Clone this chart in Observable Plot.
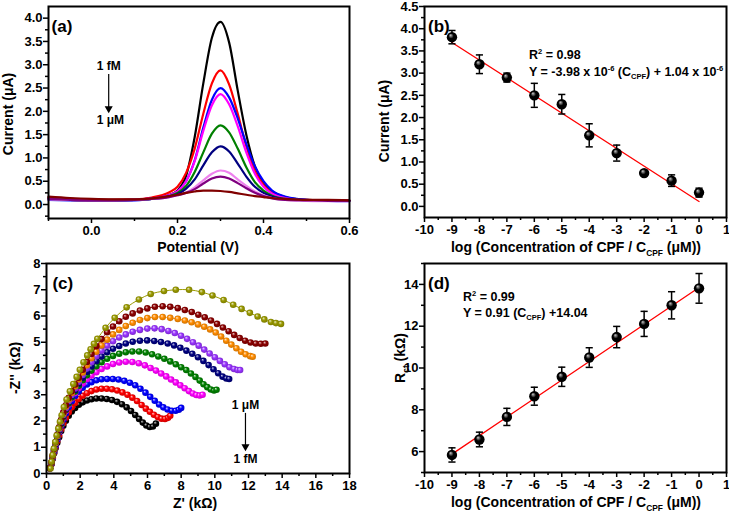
<!DOCTYPE html>
<html><head><meta charset="utf-8">
<script src="https://cdn.jsdelivr.net/npm/d3@7"></script>
<script src="https://cdn.jsdelivr.net/npm/@observablehq/plot@0.6"></script>
<style>
body{margin:0;background:#fff;}
#root{position:relative;width:729px;height:514px;overflow:hidden;font-family:"Liberation Sans",Arial,sans-serif;font-weight:bold;color:#000;}
.panel{position:absolute;}
.t{position:absolute;white-space:nowrap;font-weight:bold;line-height:1;}
.yt{transform:translate(-50%,-50%) rotate(-90deg);font-size:14px;}
.xt{transform:translate(-50%,-50%);font-size:14px;}
.eq{transform:translate(0,-50%);font-size:12.5px;}
sub,sup{font-size:60%;line-height:0;}
</style></head><body><div id="root"></div>
<script>
// ---------- Panel (a): DPV curves ----------
const potential = [-0.1,-0.05,0,0.05,0.1,0.14,0.18,0.2,0.22,0.24,0.26,0.28,0.3,0.32,0.34,0.36,0.38,0.4,0.42,0.45,0.5,0.55,0.6];
const dpvNames = ["black","red","blue","magenta","green","navy","violet","purple","maroon"];
const dpvColors = ["#000000","#ff0000","#0000ff","#ff00ff","#008000","#000080","#9933ff","#800080","#8b0000"];
const dpvBlack   = [0.15,0.12,0.10,0.10,0.10,0.13,0.20,0.30,0.62,1.45,2.6,3.58,3.92,3.48,2.45,1.5,0.82,0.45,0.28,0.16,0.10,0.09,0.08];
const dpvRed     = [0.15,0.12,0.10,0.10,0.11,0.15,0.26,0.38,0.68,1.2,1.95,2.6,2.88,2.58,1.95,1.25,0.72,0.42,0.25,0.15,0.10,0.09,0.08];
const dpvBlue    = [0.10,0.09,0.08,0.08,0.09,0.12,0.20,0.28,0.50,0.95,1.65,2.25,2.5,2.3,1.85,1.3,0.82,0.5,0.3,0.17,0.10,0.08,0.07];
const dpvMagenta = [0.12,0.10,0.09,0.09,0.10,0.13,0.20,0.28,0.50,0.93,1.58,2.13,2.37,2.15,1.68,1.12,0.66,0.38,0.23,0.14,0.09,0.08,0.08];
const dpvGreen   = [0.12,0.10,0.09,0.09,0.10,0.12,0.18,0.25,0.40,0.70,1.12,1.52,1.7,1.55,1.2,0.8,0.48,0.3,0.19,0.12,0.09,0.08,0.08];
const dpvNavy    = [0.12,0.10,0.09,0.09,0.10,0.12,0.17,0.22,0.34,0.54,0.84,1.12,1.25,1.14,0.88,0.6,0.38,0.25,0.17,0.11,0.09,0.08,0.08];
const dpvViolet  = [0.11,0.10,0.09,0.09,0.10,0.12,0.16,0.20,0.26,0.37,0.52,0.66,0.73,0.68,0.54,0.4,0.28,0.2,0.14,0.10,0.08,0.07,0.07];
const dpvPurple  = [0.12,0.10,0.09,0.09,0.10,0.12,0.16,0.20,0.25,0.33,0.45,0.56,0.6,0.56,0.46,0.35,0.25,0.18,0.13,0.10,0.09,0.08,0.08];
const dpvMaroon  = [0.17,0.14,0.12,0.11,0.11,0.13,0.18,0.21,0.25,0.28,0.30,0.30,0.29,0.27,0.24,0.21,0.18,0.16,0.14,0.12,0.10,0.10,0.09];
const aXTicks = [0,0.2,0.4,0.6], aXMinor = [-0.1,0.1,0.3,0.5];
const aYTicks = [0,0.5,1,1.5,2,2.5,3,3.5,4], aYMinor = [-0.25,0.25,0.75,1.25,1.75,2.25,2.75,3.25,3.75];

// ---------- Panels (b),(d): calibration ----------
const concLog = [-9,-8,-7,-6,-5,-4,-3,-2,-1,0];
const peakCurrent = [3.81,3.2,2.9,2.5,2.3,1.6,1.2,0.75,0.58,0.31];
const peakErr = [0.15,0.21,0.1,0.27,0.22,0.26,0.18,0.05,0.13,0.1];
const fitBX = [-9,0], fitBY = [3.69,0.11];
const rct = [5.84,6.58,7.66,8.65,9.58,10.5,11.48,12.11,13.0,13.81];
const rctErr = [0.34,0.35,0.41,0.43,0.46,0.47,0.51,0.6,0.65,0.71];
const fitDX = [-9,0], fitDY = [5.88,13.85];
const bXTicks = [-10,-9,-8,-7,-6,-5,-4,-3,-2,-1,0,1], bXMinor = [-9.5,-8.5,-7.5,-6.5,-5.5,-4.5,-3.5,-2.5,-1.5,-0.5,0.5];
const bYTicks = [0,0.5,1,1.5,2,2.5,3,3.5,4,4.5], bYMinor = [0.25,0.75,1.25,1.75,2.25,2.75,3.25,3.75,4.25];
const dYTicks = [6,8,10,12,14], dYMinor = [5,7,9,11,13,15];

// ---------- Panel (c): Nyquist curves [Z', -Z''] in kΩ ----------
const zBlack = [[0.2,0.2],[0.3,0.36],[0.37,0.56],[0.45,0.77],[0.54,0.97],[0.64,1.17],[0.75,1.38],[0.87,1.62],[1.0,1.82],[1.15,2.01],[1.32,2.2],[1.5,2.36],[1.7,2.5],[1.92,2.62],[2.15,2.71],[2.4,2.78],[2.67,2.83],[2.96,2.86],[3.27,2.86],[3.58,2.84],[3.89,2.8],[4.19,2.73],[4.48,2.64],[4.76,2.52],[5.02,2.38],[5.27,2.23],[5.5,2.08],[5.72,1.94],[5.93,1.83],[6.13,1.77],[6.32,1.79],[6.5,1.9]];
const zRed = [[0.2,0.2],[0.3,0.37],[0.37,0.58],[0.45,0.8],[0.54,1.02],[0.64,1.24],[0.75,1.46],[0.87,1.69],[1.0,1.91],[1.15,2.12],[1.32,2.33],[1.5,2.52],[1.7,2.69],[1.92,2.84],[2.15,2.96],[2.4,3.06],[2.67,3.14],[2.96,3.2],[3.27,3.23],[3.58,3.23],[3.89,3.21],[4.2,3.16],[4.51,3.09],[4.81,3.0],[5.1,2.89],[5.38,2.76],[5.65,2.61],[5.9,2.47],[6.14,2.35],[6.38,2.24],[6.61,2.15],[6.83,2.09],[7.04,2.08],[7.22,2.12],[7.35,2.2]];
const zBlue = [[0.2,0.2],[0.3,0.39],[0.37,0.6],[0.45,0.83],[0.54,1.06],[0.64,1.3],[0.75,1.56],[0.87,1.81],[1.0,2.05],[1.15,2.3],[1.32,2.53],[1.5,2.75],[1.7,2.95],[1.92,3.12],[2.15,3.27],[2.4,3.39],[2.67,3.48],[2.96,3.55],[3.27,3.59],[3.6,3.6],[3.94,3.6],[4.28,3.58],[4.62,3.53],[4.95,3.46],[5.27,3.36],[5.58,3.23],[5.88,3.08],[6.16,2.92],[6.43,2.77],[6.69,2.63],[6.94,2.52],[7.19,2.44],[7.44,2.39],[7.67,2.39],[7.86,2.43],[8.0,2.5]];
const zMagenta = [[0.2,0.2],[0.3,0.4],[0.37,0.62],[0.45,0.86],[0.54,1.1],[0.64,1.35],[0.75,1.6],[0.87,1.86],[1.0,2.12],[1.15,2.38],[1.32,2.63],[1.5,2.86],[1.7,3.07],[1.92,3.26],[2.15,3.43],[2.4,3.59],[2.67,3.73],[2.96,3.86],[3.27,3.98],[3.6,4.08],[3.95,4.17],[4.32,4.23],[4.71,4.26],[5.1,4.25],[5.48,4.2],[5.84,4.12],[6.18,4.02],[6.5,3.92],[6.81,3.81],[7.11,3.7],[7.4,3.58],[7.68,3.47],[7.95,3.36],[8.21,3.25],[8.46,3.14],[8.69,3.05],[8.9,2.99],[9.1,2.97],[9.27,3.0]];
const zGreen = [[0.2,0.2],[0.3,0.41],[0.37,0.63],[0.45,0.87],[0.54,1.12],[0.64,1.37],[0.75,1.63],[0.87,1.89],[1.0,2.15],[1.15,2.42],[1.32,2.67],[1.5,2.9],[1.7,3.12],[1.92,3.34],[2.15,3.55],[2.4,3.74],[2.67,3.92],[2.96,4.09],[3.27,4.24],[3.6,4.37],[3.95,4.48],[4.32,4.56],[4.71,4.62],[5.1,4.65],[5.5,4.65],[5.89,4.61],[6.27,4.54],[6.64,4.46],[7.0,4.37],[7.35,4.27],[7.68,4.16],[8.0,4.05],[8.3,3.94],[8.58,3.81],[8.85,3.68],[9.1,3.54],[9.33,3.4],[9.55,3.29],[9.76,3.2],[9.95,3.16],[10.1,3.19]];
const zNavy = [[0.2,0.2],[0.3,0.41],[0.37,0.64],[0.45,0.88],[0.54,1.13],[0.64,1.39],[0.75,1.66],[0.87,1.93],[1.0,2.2],[1.15,2.46],[1.32,2.72],[1.5,2.96],[1.7,3.18],[1.92,3.42],[2.15,3.65],[2.4,3.87],[2.67,4.08],[2.96,4.28],[3.27,4.46],[3.6,4.62],[3.95,4.75],[4.32,4.86],[4.71,4.95],[5.12,5.02],[5.55,5.06],[5.98,5.07],[6.4,5.05],[6.8,5.01],[7.2,4.95],[7.58,4.88],[7.95,4.79],[8.31,4.68],[8.66,4.56],[9.0,4.43],[9.32,4.29],[9.63,4.13],[9.92,3.97],[10.2,3.82],[10.46,3.69],[10.68,3.62],[10.85,3.6]];
const zViolet = [[0.2,0.2],[0.3,0.42],[0.37,0.65],[0.45,0.9],[0.54,1.15],[0.64,1.42],[0.75,1.69],[0.87,1.96],[1.0,2.23],[1.15,2.49],[1.32,2.75],[1.5,2.99],[1.7,3.24],[1.92,3.5],[2.15,3.75],[2.4,4.0],[2.67,4.24],[2.96,4.47],[3.27,4.68],[3.6,4.87],[3.95,5.04],[4.32,5.18],[4.71,5.3],[5.12,5.4],[5.55,5.47],[5.99,5.52],[6.42,5.53],[6.84,5.5],[7.24,5.43],[7.62,5.35],[7.99,5.25],[8.35,5.13],[8.7,5.0],[9.04,4.87],[9.37,4.72],[9.69,4.57],[10.0,4.43],[10.3,4.29],[10.59,4.16],[10.87,4.05],[11.14,3.98],[11.35,3.94],[11.5,3.94]];
const zOrange = [[0.2,0.2],[0.3,0.42],[0.37,0.66],[0.45,0.91],[0.54,1.17],[0.64,1.44],[0.75,1.72],[0.87,2.0],[1.0,2.28],[1.15,2.55],[1.32,2.82],[1.5,3.07],[1.7,3.32],[1.92,3.58],[2.15,3.85],[2.4,4.12],[2.67,4.39],[2.96,4.64],[3.27,4.88],[3.6,5.1],[3.95,5.3],[4.32,5.47],[4.71,5.62],[5.12,5.74],[5.55,5.85],[5.99,5.92],[6.44,5.96],[6.9,5.96],[7.35,5.93],[7.8,5.89],[8.22,5.83],[8.62,5.76],[9.0,5.68],[9.37,5.59],[9.72,5.49],[10.05,5.37],[10.37,5.22],[10.68,5.06],[10.98,4.91],[11.28,4.77],[11.56,4.64],[11.83,4.54],[12.1,4.47],[12.25,4.45]];
const zMaroon = [[0.2,0.2],[0.3,0.43],[0.37,0.68],[0.45,0.93],[0.54,1.2],[0.64,1.47],[0.75,1.76],[0.87,2.05],[1.0,2.33],[1.15,2.6],[1.32,2.88],[1.5,3.13],[1.7,3.39],[1.92,3.65],[2.15,3.95],[2.4,4.25],[2.67,4.55],[2.96,4.85],[3.27,5.12],[3.6,5.38],[3.95,5.6],[4.32,5.8],[4.71,5.97],[5.12,6.1],[5.55,6.21],[5.99,6.29],[6.44,6.35],[6.9,6.37],[7.35,6.35],[7.8,6.3],[8.22,6.23],[8.63,6.15],[9.02,6.05],[9.4,5.95],[9.77,5.83],[10.13,5.7],[10.48,5.56],[10.82,5.42],[11.15,5.28],[11.48,5.16],[11.8,5.06],[12.12,4.99],[12.43,4.95],[12.73,4.94],[13.0,4.95]];
const zOlive = [[0.24,0.19],[0.3,0.45],[0.37,0.7],[0.44,0.95],[0.52,1.2],[0.6,1.45],[0.7,1.71],[0.8,1.97],[0.9,2.22],[1.03,2.53],[1.19,2.82],[1.39,3.13],[1.59,3.41],[1.79,3.68],[1.98,3.95],[2.2,4.24],[2.42,4.5],[2.62,4.73],[2.82,4.94],[3.02,5.13],[3.51,5.55],[4.05,5.93],[4.76,6.33],[5.49,6.63],[6.19,6.84],[6.98,6.95],[7.68,7.0],[8.47,7.0],[9.23,6.91],[9.86,6.78],[10.52,6.61],[11.09,6.43],[11.59,6.27],[12.08,6.12],[12.54,5.98],[12.94,5.87],[13.33,5.77],[13.63,5.73],[13.93,5.7]];
const nyqCurves = [zBlack,zRed,zBlue,zMagenta,zGreen,zNavy,zViolet,zOrange,zMaroon,zOlive];
const nyqColors = ["#000000","#ff0000","#0000ff","#ff00ff","#008000","#000080","#9933ff","#ff8c00","#8b0000","#9a9a00"];
const cXTicks = [0,2,4,6,8,10,12,14,16,18], cXMinor = [1,3,5,7,9,11,13,15,17];
const cYTicks = [0,1,2,3,4,5,6,7,8], cYMinor = [0.5,1.5,2.5,3.5,4.5,5.5,6.5,7.5];

// ---------- helpers ----------
const FONT = '"Liberation Sans", Arial, sans-serif';
const baseStyle = {fontFamily: FONT, fontSize: "13px", fontWeight: "bold", color: "black", background: "transparent", overflow: "visible"};
const root = document.getElementById("root");
const fmt1 = d3.format(".1f");
const fmtInt = d => String(d);

function place(node, left, top) {
  const div = document.createElement("div");
  div.className = "panel";
  div.style.left = left + "px"; div.style.top = top + "px";
  div.appendChild(node);
  root.appendChild(div);
}
function label(html, x, y, cls) {
  const d = document.createElement("div");
  d.className = "t " + cls;
  d.style.left = x + "px"; d.style.top = y + "px";
  d.innerHTML = html;
  root.appendChild(d);
}
function axes(xT, xM, yT, yM, xf, yf) {
  return [
    Plot.axisX(xT, {tickSize: 5, tickPadding: 2, tickFormat: xf, label: null, strokeWidth: 1.5}),
    Plot.axisX(xM, {tickSize: 3, tickFormat: () => "", label: null, strokeWidth: 1.5}),
    Plot.axisY(yT, {tickSize: 5, tickPadding: 1, tickFormat: yf, label: null, strokeWidth: 1.5}),
    Plot.axisY(yM, {tickSize: 3, tickFormat: () => "", label: null, strokeWidth: 1.5}),
    Plot.frame({stroke: "black", strokeWidth: 2})
  ];
}
function addGradient(svg, id, color) {
  let defs = d3.select(svg).select("defs");
  if (defs.empty()) defs = d3.select(svg).insert("defs", ":first-child");
  const g = defs.append("radialGradient").attr("id", id)
    .attr("cx", "50%").attr("cy", "50%").attr("r", "55%").attr("fx", "35%").attr("fy", "30%");
  g.append("stop").attr("offset", "0%").attr("stop-color", d3.interpolateRgb(color, "#ffffff")(0.8));
  g.append("stop").attr("offset", "45%").attr("stop-color", color);
  g.append("stop").attr("offset", "100%").attr("stop-color", d3.color(color).darker(0.7).formatHex());
}

// ---------- (a) ----------
const dpvCurves = [dpvBlack,dpvRed,dpvBlue,dpvMagenta,dpvGreen,dpvNavy,dpvViolet,dpvPurple,dpvMaroon];
const dpvRows = dpvCurves.flatMap((ys, k) => potential.map((x, i) => ({x, y: ys[i], s: dpvNames[k]})));
const plotA = Plot.plot({
  width: 365, height: 240, marginLeft: 48, marginRight: 16, marginTop: 6, marginBottom: 22,
  x: {domain: [-0.1, 0.6], label: null},
  y: {domain: [-0.3, 4.25], label: null},
  color: {domain: dpvNames, range: dpvColors},
  style: baseStyle,
  marks: [
    Plot.line(dpvRows, {x: "x", y: "y", z: "s", stroke: "s", strokeWidth: 2.2, curve: "monotone-x"}),
    Plot.text([{x: -0.093, y: 3.83, t: "(a)"}], {x: "x", y: "y", text: "t", textAnchor: "start", fontSize: 17, fontWeight: "bold"}),
    Plot.text([{x: 0.04, y: 2.96, t: "1 fM"}, {x: 0.044, y: 1.82, t: "1 μM"}], {x: "x", y: "y", text: "t", fontSize: 12, fontWeight: "bold"}),
    Plot.ruleX([{x: 0.04, y1: 2.79, y2: 2.08}], {x: "x", y1: "y1", y2: "y2", strokeWidth: 1.2}),
    Plot.dot([{x: 0.04, y: 2.06}], {x: "x", y: "y", symbol: "triangle", rotate: 180, r: 3, fill: "black"}),
    ...axes(aXTicks, aXMinor, aYTicks, aYMinor, fmt1, fmt1)
  ]
});
place(plotA, 0, 0);

// ---------- (b) ----------
const bRows = concLog.map((x, i) => ({x, y: peakCurrent[i], lo: peakCurrent[i] - peakErr[i], hi: peakCurrent[i] + peakErr[i]}));
const bFit = fitBX.map((x, i) => ({x, y: fitBY[i]}));
const plotB = Plot.plot({
  width: 364, height: 240, marginLeft: 59, marginRight: 3, marginTop: 6, marginBottom: 23,
  x: {domain: [-10, 1], label: null},
  y: {domain: [-0.25, 4.5], label: null},
  style: baseStyle,
  marks: [
    Plot.line(bFit, {x: "x", y: "y", stroke: "#ff0000", strokeWidth: 1.3}),
    Plot.ruleX(bRows, {x: "x", y1: "lo", y2: "hi", strokeWidth: 1.5}),
    Plot.link(bRows, {x1: d => d.x - 0.13, x2: d => d.x + 0.13, y1: "hi", y2: "hi", strokeWidth: 1.5}),
    Plot.link(bRows, {x1: d => d.x - 0.13, x2: d => d.x + 0.13, y1: "lo", y2: "lo", strokeWidth: 1.5}),
    Plot.dot(bRows, {x: "x", y: "y", r: 5.2, fill: "url(#ballB)"}),
    Plot.text([{x: -9.87, y: 4.04, t: "(b)"}], {x: "x", y: "y", text: "t", textAnchor: "start", fontSize: 17, fontWeight: "bold"}),
    ...axes(bXTicks, bXMinor, bYTicks, bYMinor, fmtInt, fmt1)
  ]
});
addGradient(plotB, "ballB", "#000000");
place(plotB, 365, 0);

// ---------- (c) ----------
const nyqMarks = nyqCurves.flatMap((pts, k) => {
  const rows = pts.map(([x, y]) => ({x, y}));
  return [
    Plot.line(rows, {x: "x", y: "y", stroke: nyqColors[k], strokeWidth: 1, curve: "catmull-rom"}),
    Plot.dot(rows, {x: "x", y: "y", r: 3.3, fill: `url(#gc${k})`})
  ];
});
const plotC = Plot.plot({
  width: 365, height: 264, marginLeft: 46, marginRight: 16, marginTop: 13, marginBottom: 41,
  x: {domain: [0, 18], label: null},
  y: {domain: [0, 8], label: null},
  style: baseStyle,
  marks: [
    ...nyqMarks,
    Plot.text([{x: 0.35, y: 7.24, t: "(c)"}], {x: "x", y: "y", text: "t", textAnchor: "start", fontSize: 17, fontWeight: "bold"}),
    Plot.text([{x: 11.82, y: 2.59, t: "1 μM"}, {x: 11.82, y: 0.53, t: "1 fM"}], {x: "x", y: "y", text: "t", fontSize: 12, fontWeight: "bold"}),
    Plot.ruleX([{x: 11.82, y1: 2.29, y2: 1.07}], {x: "x", y1: "y1", y2: "y2", strokeWidth: 1.2}),
    Plot.dot([{x: 11.82, y: 1.03}], {x: "x", y: "y", symbol: "triangle", rotate: 180, r: 3, fill: "black"}),
    ...axes(cXTicks, cXMinor, cYTicks, cYMinor, fmtInt, fmtInt)
  ]
});
nyqColors.forEach((c, k) => addGradient(plotC, `gc${k}`, c));
place(plotC, 0, 250);

// ---------- (d) ----------
const dRows = concLog.map((x, i) => ({x, y: rct[i], lo: rct[i] - rctErr[i], hi: rct[i] + rctErr[i]}));
const dFit = fitDX.map((x, i) => ({x, y: fitDY[i]}));
const plotD = Plot.plot({
  width: 364, height: 264, marginLeft: 59, marginRight: 3, marginTop: 13, marginBottom: 42,
  x: {domain: [-10, 1], label: null},
  y: {domain: [5, 15], label: null},
  style: baseStyle,
  marks: [
    Plot.line(dFit, {x: "x", y: "y", stroke: "#ff0000", strokeWidth: 1.3}),
    Plot.ruleX(dRows, {x: "x", y1: "lo", y2: "hi", strokeWidth: 1.5}),
    Plot.link(dRows, {x1: d => d.x - 0.13, x2: d => d.x + 0.13, y1: "hi", y2: "hi", strokeWidth: 1.5}),
    Plot.link(dRows, {x1: d => d.x - 0.13, x2: d => d.x + 0.13, y1: "lo", y2: "lo", strokeWidth: 1.5}),
    Plot.dot(dRows, {x: "x", y: "y", r: 5.2, fill: "url(#ballD)"}),
    Plot.text([{x: -9.87, y: 14.04, t: "(d)"}], {x: "x", y: "y", text: "t", textAnchor: "start", fontSize: 17, fontWeight: "bold"}),
    ...axes(bXTicks, bXMinor, dYTicks, dYMinor, fmtInt, fmtInt)
  ]
});
addGradient(plotD, "ballD", "#000000");
place(plotD, 365, 250);

// ---------- titles and annotations ----------
label("Current (μA)", 8, 114, "yt");
label("Potential (V)", 198, 247, "xt");
label("Current (μA)", 384, 121, "yt");
label("log (Concentration of CPF / C<sub>CPF</sub> (μM))", 576, 247, "xt");
label("-Z'' (kΩ)", 15, 368, "yt");
label("Z' (kΩ)", 195, 503, "xt");
label("R<sub>ct</sub> (kΩ)", 400, 358, "yt");
label("log (Concentration of CPF / C<sub>CPF</sub> (μM))", 576, 502, "xt");
label("R<sup>2</sup> = 0.98", 529, 55, "eq");
label("Y = -3.98 x 10<sup>-6</sup> (C<sub>CPF</sub>) + 1.04 x 10<sup>-6</sup>", 529, 72, "eq");
label("R<sup>2</sup> = 0.99", 463, 297, "eq");
label("Y = 0.91 (C<sub>CPF</sub>) +14.04", 463, 313, "eq");
</script>
</body></html>
